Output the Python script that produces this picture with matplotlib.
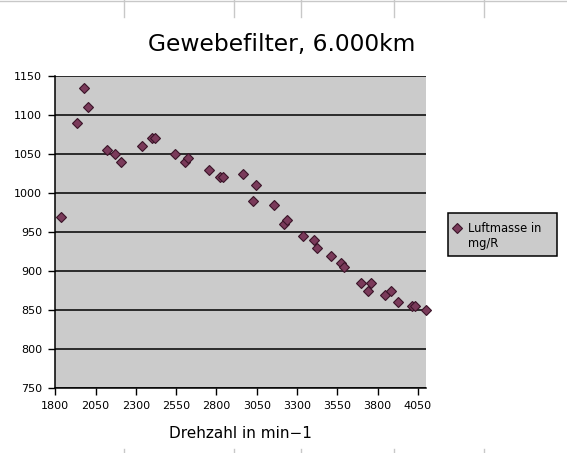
import matplotlib
matplotlib.use('Agg')
import matplotlib.pyplot as plt
from matplotlib.lines import Line2D
from matplotlib.patches import Rectangle

# Messwerte: Drehzahl (min-1) und Luftmasse (mg/R)
drehzahl = [1833, 1936, 1976, 2001, 2122, 2168, 2209, 2336, 2398, 2420,
            2545, 2606, 2625, 2755, 2821, 2838, 2962, 3026, 3048, 3154,
            3216, 3237, 3338, 3402, 3424, 3509, 3573, 3590, 3697, 3740,
            3759, 3844, 3883, 3929, 4011, 4032, 4100]
luftmasse = [970, 1090, 1135, 1110, 1055, 1050, 1040, 1060, 1070, 1070,
             1050, 1040, 1045, 1030, 1020, 1020, 1025, 990, 1010, 985,
             960, 965, 945, 940, 930, 920, 910, 905, 885, 875,
             885, 870, 875, 860, 855, 855, 850]

x_ticks = [1800, 2050, 2300, 2550, 2800, 3050, 3300, 3550, 3800, 4050]
y_ticks = [750, 800, 850, 900, 950, 1000, 1050, 1100, 1150]

plt.rcParams['font.family'] = ['DejaVu Sans']

fig = plt.figure(figsize=(5.67, 4.53), dpi=100, facecolor='white')
ax = fig.add_axes([55.3 / 567, 1 - 388.3 / 453, (426 - 55.3) / 567, (388.3 - 76) / 453])
ax.set_facecolor('#cbcbcb')

for v in y_ticks:
    ax.axhline(v, color='black', lw=1.1, zorder=1)

mface = '#7a3a5a'
medge = '#3a1428'
msize = 4.8
ax.plot(drehzahl, luftmasse, linestyle='none', marker='D', markersize=msize,
        markerfacecolor=mface, markeredgecolor=medge, markeredgewidth=0.8,
        zorder=3, clip_on=False)

ax.set_xlim(1800, 4100)
ax.set_ylim(750, 1150)
ax.set_xticks(x_ticks)
ax.set_yticks(y_ticks)
ax.tick_params(direction='out', length=5, width=1, labelsize=8, pad=4.5, color='black')

for s in ['top', 'right']:
    ax.spines[s].set_visible(False)
for s in ['left', 'bottom']:
    ax.spines[s].set_linewidth(1.1)

fig.text(282 / 567, 1 - 44 / 453, 'Gewebefilter, 6.000km', ha='center', va='center', fontsize=16.8)
fig.text(240 / 567, 1 - 434 / 453, 'Drehzahl in min\u22121', ha='center', va='center', fontsize=11)

# Legende
fig.patches.append(Rectangle((448 / 567, 1 - 256 / 453), (556.7 - 448) / 567, (256 - 213) / 453,
                             transform=fig.transFigure, facecolor='#cbcbcb',
                             edgecolor='black', lw=1.1, zorder=5))
fig.add_artist(Line2D([456.7 / 567], [1 - 227.5 / 453], transform=fig.transFigure,
                      marker='D', markersize=msize, markerfacecolor=mface,
                      markeredgecolor=medge, markeredgewidth=0.8, linestyle='none', zorder=6))
fig.text(468 / 567, 1 - 228 / 453, 'Luftmasse in', ha='left', va='center', fontsize=8.3, zorder=6)
fig.text(468 / 567, 1 - 244 / 453, 'mg/R', ha='left', va='center', fontsize=8.3, zorder=6)

# Tabellenraster am Bildrand
grey = '#c8c8c8'
fig.add_artist(Line2D([0, 1], [1 - 0.5 / 453] * 2, transform=fig.transFigure, color=grey, lw=1))
for xc in [124, 234, 301, 394, 484]:
    fig.add_artist(Line2D([xc / 567] * 2, [1, 1 - 17 / 453], transform=fig.transFigure, color=grey, lw=1))
    fig.add_artist(Line2D([xc / 567] * 2, [0, 4 / 453], transform=fig.transFigure, color=grey, lw=1))

fig.savefig('out.png', dpi=100, facecolor='white')
